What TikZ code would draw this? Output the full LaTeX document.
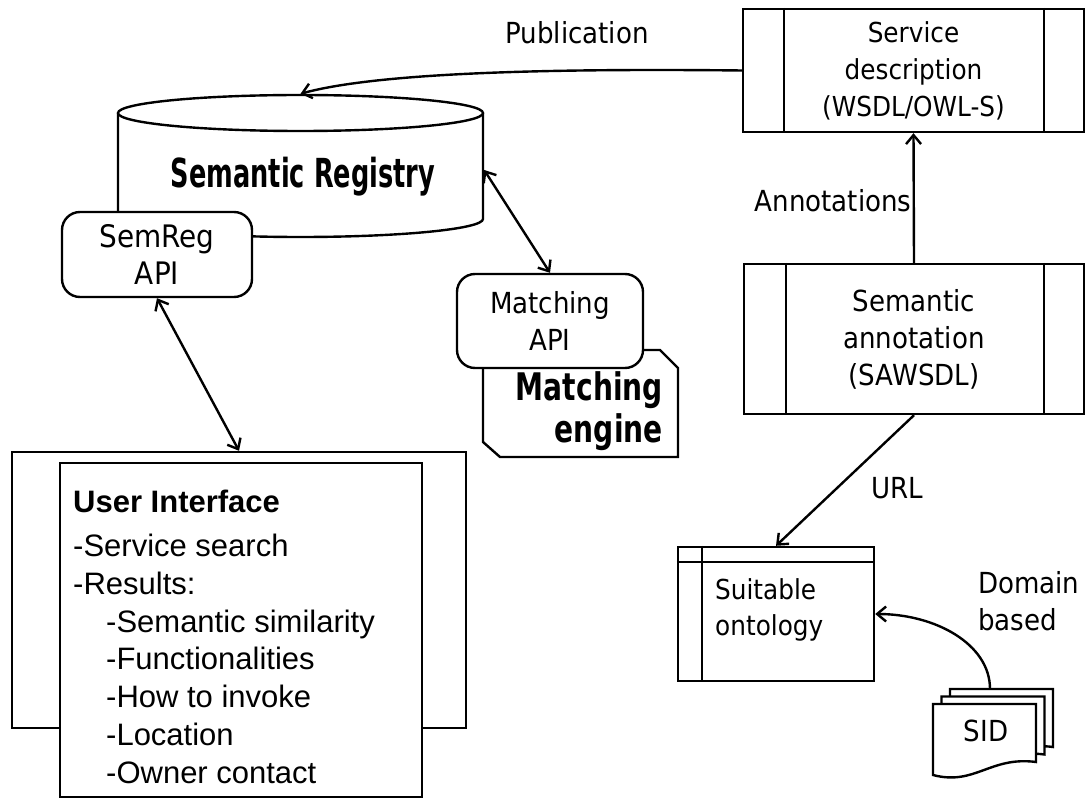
\documentclass[tikz,border=0pt]{standalone}
\usepackage{fontspec}
\setmainfont{DejaVu Sans}[FakeStretch=0.9]
\newfontfamily\regfont{DejaVu Sans}[FakeStretch=0.64]
\newfontfamily\engfont{DejaVu Sans}[FakeStretch=0.74]
\newfontfamily\uifont{Liberation Sans}
\usetikzlibrary{arrows.meta}
\begin{document}
\begin{tikzpicture}[x=1pt,y=-1pt,line width=2.4pt,
  barb/.tip={Straight Barb[length=9pt,width=15pt]},
  arr/.style={-barb},
  darr/.style={barb-barb},
  txt/.style={inner sep=0pt,font=\fontsize{29}{37}\selectfont},
  box/.style={draw,fill=white,inner sep=0pt,align=center,font=\fontsize{29}{37}\selectfont},
  rbox/.style={box,rounded corners=18pt}]
\useasboundingbox (0,0) rectangle (1086,799);

% Semantic registry cylinder
\draw[fill=white] (118,113) -- (118,219) arc[start angle=180,end angle=360,x radius=182.5pt,y radius=18pt] -- (483,113);
\draw[fill=white] (300.5,113) ellipse[x radius=182.5pt,y radius=18pt];
\node[minimum width=365pt,minimum height=142pt,inner sep=0pt] (reg) at (300.5,166) {};
\node[inner sep=0pt,font=\regfont\bfseries\fontsize{40}{44}\selectfont] (regtxt) at (303,177) {Semantic Registry};

% SemReg API
\node[rbox,minimum width=190pt,minimum height=85pt,font=\fontsize{31}{37}\selectfont] (sapi) at (157,254.5) {SemReg\\API};

% Matching engine
\draw[fill=white] (483,350) -- (660,350) -- (678,368) -- (678,457) -- (500,457) -- (483,442) -- cycle;
\node[anchor=east,inner sep=0pt,align=right,font=\engfont\bfseries\fontsize{38}{42}\selectfont] (eng) at (664,411) {Matching\\engine};
\node[rbox,minimum width=186pt,minimum height=94pt] (mapi) at (550,321) {Matching\\API};

% User interface
\node[draw,fill=white,minimum width=454pt,minimum height=276pt,inner sep=0pt] (ui) at (239,590) {};
\node[draw,fill=white,minimum width=362pt,minimum height=334pt,inner sep=0pt] (uiin) at (241,630) {};
\node[anchor=north west,inner sep=0pt,align=left,font=\uifont\fontsize{31}{37.8}\selectfont] (uitxt) at (72,489)
 {\textbf{User Interface}\\[6pt]-Service search\\-Results:\\\hspace*{33pt}-Semantic similarity\\\hspace*{33pt}-Functionalities\\\hspace*{33pt}-How to invoke\\\hspace*{33pt}-Location\\\hspace*{33pt}-Owner contact};

% Service description
\node[box,minimum width=341pt,minimum height=123pt,font=\fontsize{27.5}{37}\selectfont] (sd) at (913.5,70.5) {Service\\description\\(WSDL/OWL-S)};
\draw ([xshift=42pt]sd.north west) -- ([xshift=42pt]sd.south west);
\draw ([xshift=-41pt]sd.north east) -- ([xshift=-41pt]sd.south east);

% Semantic annotation
\node[box,minimum width=340pt,minimum height=150pt] (sa) at (914,339) {Semantic\\annotation\\(SAWSDL)};
\draw ([xshift=43pt]sa.north west) -- ([xshift=43pt]sa.south west);
\draw ([xshift=-41pt]sa.north east) -- ([xshift=-41pt]sa.south east);

% Suitable ontology
\node[draw,fill=white,minimum width=196pt,minimum height=134pt,inner sep=0pt] (ont) at (776,614) {};
\draw ([yshift=-16pt]ont.north west) -- ([yshift=-16pt]ont.north east);
\draw ([xshift=25pt]ont.north west) -- ([xshift=25pt]ont.south west);
\node[inner sep=0pt,font=\fontsize{27.5}{36}\selectfont,anchor=west,align=left] (onttxt) at (714,610) {Suitable\\ontology};

% SID documents
\foreach \d in {2,1,0}{
  \draw[fill=white,shift={(8.5*\d,-7.5*\d)}] (933,704) -- (1036,704) -- (1036,762)
    .. controls (990,756) and (975,786) .. (933,775) -- cycle;
}
\coordinate (sidtop) at (990,689);
\node[txt] (sid) at (986,731) {SID};

% Connectors
\draw[arr] (sd.west) .. controls +(-180,-2) and +(80,-22) .. (reg.north);
\draw[darr] ([yshift=-4pt]reg.east) -- (mapi.north);
\draw[darr] (sapi.south) -- (ui.north);
\draw[arr] (sa.north) -- (sd.south);
\draw[arr] (sa.south) -- (ont.north);
\draw[arr] (sidtop) .. controls +(0,-45) and +(60,0) .. (ont.east);

% Labels
\node[txt] (lpub) at (577,33) {Publication};
\node[txt] (lann) at (833,201) {Annotations};
\node[txt] (lurl) at (897,488) {URL};
\node[txt,anchor=west,align=left] (ldom) at (977,601) {Domain\\based};
\end{tikzpicture}
\end{document}
